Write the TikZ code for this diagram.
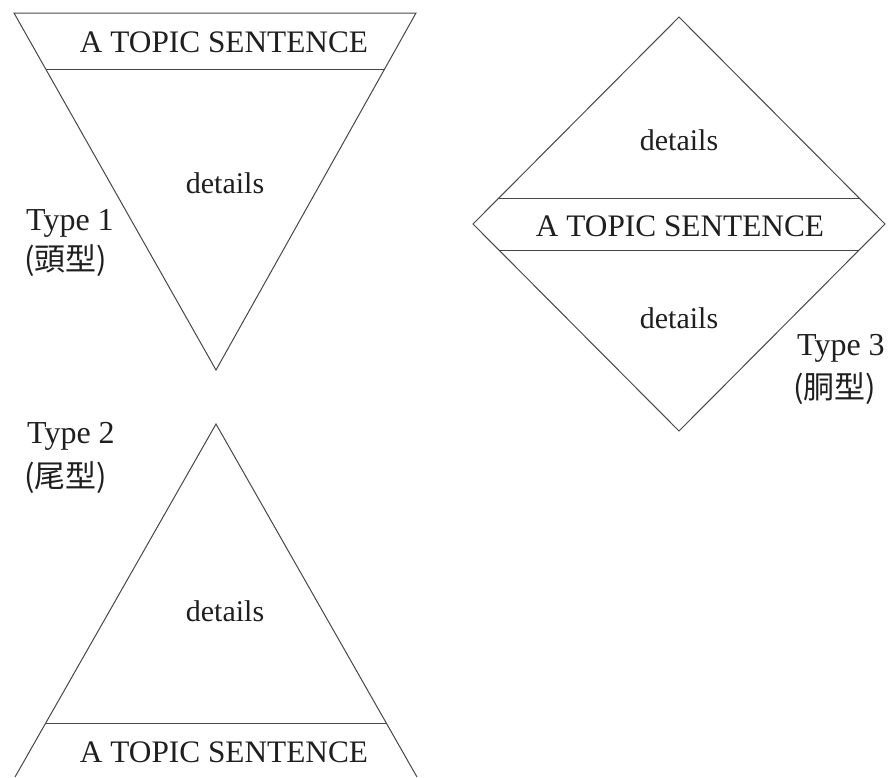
\documentclass[tikz,border=0pt]{standalone}
\usepackage{fontspec}
\setmainfont{Liberation Serif}
\newfontfamily\cjk{Noto Sans CJK JP}
\usetikzlibrary{calc}
\begin{document}
\begin{tikzpicture}[x=1pt,y=-1pt,
  edge/.style={draw=black!72, line width=1pt, line join=miter},
  lbl/.style={font=\fontsize{30}{36}\selectfont, text=black!88, inner sep=0pt},
  tlbl/.style={font=\fontsize{31.3}{36}\selectfont, text=black!88, inner sep=0pt},
  ylbl/.style={font=\fontsize{32}{38}\selectfont, text=black!88, inner sep=0pt, anchor=base west},
  jlbl/.style={font=\cjk\fontsize{31}{36}\selectfont, text=black!88, inner sep=0pt, anchor=west}]
\useasboundingbox (0,0) rectangle (891,777);
% Type 1 (inverted triangle)
\coordinate (t1a) at (14,13);
\coordinate (t1b) at (416,13);
\coordinate (t1c) at (216,370);
\coordinate (t1l) at ($(t1a)!0.157!(t1c)$);
\coordinate (t1r) at ($(t1b)!0.157!(t1c)$);
\draw[edge] (t1a) -- (t1b) -- (t1c) -- cycle;
\draw[edge] (t1l) -- (t1r);
\node[tlbl] (ts1) at (224,42) {A TOPIC SENTENCE};
\node[lbl] (d1) at (225,183) {details};
\node[ylbl] (ty1) at (26,230) {Type 1};
\node[jlbl] (j1) at (24,261) {(頭型)};
% Type 2 (triangle)
\coordinate (t2c) at (216,424);
\coordinate (t2a) at (15,777);
\coordinate (t2b) at (417,777);
\coordinate (t2l) at ($(t2c)!0.847!(t2a)$);
\coordinate (t2r) at ($(t2c)!0.847!(t2b)$);
\draw[edge] (t2a) -- (t2c) -- (t2b);
\draw[edge] (t2l) -- (t2r);
\node[lbl] (d2) at (225,611) {details};
\node[tlbl] (ts2) at (224,752) {A TOPIC SENTENCE};
\node[ylbl] (ty2) at (27,443) {Type 2};
\node[jlbl] (j2) at (24,478) {(尾型)};
% Type 3 (diamond)
\coordinate (dt) at (679,17);
\coordinate (dl) at (473,224);
\coordinate (dr) at (885,224);
\coordinate (db) at (679,431);
\coordinate (du1) at ($(dl)!0.1256!(dt)$);
\coordinate (du2) at ($(dr)!0.1256!(dt)$);
\coordinate (dd1) at ($(dl)!0.1256!(db)$);
\coordinate (dd2) at ($(dr)!0.1256!(db)$);
\draw[edge] (dt) -- (dr) -- (db) -- (dl) -- cycle;
\draw[edge] (du1) -- (du2);
\draw[edge] (dd1) -- (dd2);
\node[lbl] (d3a) at (679,140) {details};
\node[tlbl] (ts3) at (680,226) {A TOPIC SENTENCE};
\node[lbl] (d3b) at (679,318) {details};
\node[ylbl] (ty3) at (797,355) {Type 3};
\node[jlbl] (j3) at (793,389) {(胴型)};
\end{tikzpicture}
\end{document}
